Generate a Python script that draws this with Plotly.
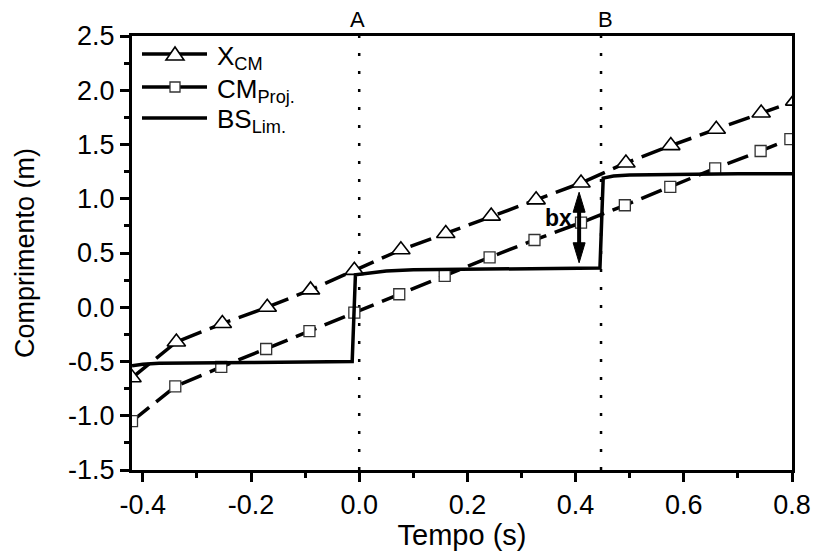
import plotly.graph_objects as go

# ---------------- data ----------------
t_xcm = [-0.42, -0.338, -0.253, -0.170, -0.090, -0.009, 0.077, 0.160, 0.244, 0.327,
         0.410, 0.493, 0.576, 0.660, 0.743, 0.805]
y_xcm = [-0.65, -0.32, -0.15, 0.0, 0.16, 0.34, 0.53, 0.68, 0.84, 0.99,
         1.145, 1.33, 1.49, 1.64, 1.79, 1.90]

t_cm = [-0.42, -0.340, -0.255, -0.172, -0.092, -0.009, 0.074, 0.158, 0.241, 0.324,
        0.410, 0.491, 0.575, 0.658, 0.742, 0.797]
y_cm = [-1.05, -0.73, -0.55, -0.385, -0.22, -0.05, 0.12, 0.29, 0.46, 0.62,
        0.78, 0.94, 1.11, 1.28, 1.44, 1.55]

t_bs = [-0.42, -0.40, -0.37, -0.30, -0.20, -0.10, -0.013, -0.007, 0.02, 0.05, 0.10,
        0.20, 0.30, 0.40, 0.445, 0.451, 0.47, 0.50, 0.60, 0.70, 0.80]
y_bs = [-0.54, -0.525, -0.515, -0.515, -0.51, -0.505, -0.50, 0.30, 0.32, 0.335, 0.345,
        0.35, 0.355, 0.36, 0.362, 1.19, 1.21, 1.22, 1.228, 1.23, 1.23]

series_names = ["X<sub>CM</sub>", "CM<sub>Proj.</sub>", "BS<sub>Lim.</sub>"]

event_t = [0.0, 0.447]
event_labels = ["A", "B"]

bx_t = 0.4065
bx_top = 1.06
bx_bottom = 0.41

x_range = [-0.42, 0.8]
y_range = [-1.5, 2.5]
x_tickvals = [-0.4, -0.2, 0.0, 0.2, 0.4, 0.6, 0.8]
x_ticktext = ["-0.4", "-0.2", "0.0", "0.2", "0.4", "0.6", "0.8"]
y_tickvals = [-1.5, -1.0, -0.5, 0.0, 0.5, 1.0, 1.5, 2.0, 2.5]
y_ticktext = ["-1.5", "-1.0", "-0.5", "0.0", "0.5", "1.0", "1.5", "2.0", "2.5"]

# ---------------- layout geometry ----------------
W, H = 816, 551
ML, MR, MT, MB = 132, 24, 36, 81
PW, PH = W - ML - MR, H - MT - MB
FONT = "Liberation Sans"


def px(xp):
    return (xp - ML) / PW


def py(yp):
    return (H - MB - yp) / PH


fig = go.Figure()

fig.add_trace(go.Scatter(
    x=t_xcm, y=y_xcm, mode="lines+markers", name=series_names[0], showlegend=False,
    line=dict(color="black", width=3.5, dash="22px,9px"),
    marker=dict(symbol="triangle-up", size=16, color="white",
                line=dict(color="black", width=1.6)),
    cliponaxis=True,
))
fig.add_trace(go.Scatter(
    x=t_cm, y=y_cm, mode="lines+markers", name=series_names[1], showlegend=False,
    line=dict(color="black", width=3.5, dash="22px,9px"),
    marker=dict(symbol="square", size=11, color="white",
                line=dict(color="#333333", width=1.3)),
    cliponaxis=True,
))
fig.add_trace(go.Scatter(
    x=t_bs, y=y_bs, mode="lines", name=series_names[2], showlegend=False,
    line=dict(color="black", width=3.5),
    cliponaxis=True,
))

shapes = []
annotations = []

# vertical dotted event lines + labels
for t, lab, xs in zip(event_t, event_labels, [-2, 4]):
    shapes.append(dict(type="line", xref="x", yref="paper", x0=t, x1=t, y0=0, y1=1,
                       line=dict(color="black", width=2.5, dash="3px,15px"), layer="below"))
    annotations.append(dict(x=t, y=1, xref="x", yref="paper", text=lab, showarrow=False,
                            yanchor="bottom", yshift=2, xshift=xs,
                            font=dict(family=FONT, size=22, color="black")))

# bx double arrow (shaft + two slender heads)
head_dx = 6.0 / PW * (x_range[1] - x_range[0])
head_dy = 20.0 / PH * (y_range[1] - y_range[0])
shapes.append(dict(type="line", xref="x", yref="y", x0=bx_t, x1=bx_t,
                   y0=bx_bottom + head_dy * 0.8, y1=bx_top - head_dy * 0.8,
                   line=dict(color="black", width=4)))
shapes.append(dict(type="path", xref="x", yref="y",
                   path=f"M{bx_t},{bx_top} L{bx_t - head_dx},{bx_top - head_dy} "
                        f"L{bx_t + head_dx},{bx_top - head_dy} Z",
                   fillcolor="black", line=dict(color="black", width=1)))
shapes.append(dict(type="path", xref="x", yref="y",
                   path=f"M{bx_t},{bx_bottom} L{bx_t - head_dx},{bx_bottom + head_dy} "
                        f"L{bx_t + head_dx},{bx_bottom + head_dy} Z",
                   fillcolor="black", line=dict(color="black", width=1)))
annotations.append(dict(x=bx_t, y=0.82, xref="x", yref="y", text="<b>bx</b>",
                        showarrow=False, xanchor="right", yanchor="middle", xshift=-5,
                        font=dict(family=FONT, size=23, color="black")))

# ---------------- legend (drawn in paper space) ----------------
leg_rows = [54, 87, 118]
leg_x0, leg_x1, leg_mid, leg_text = 142, 207, 175, 215
for i, yrow in enumerate(leg_rows):
    shapes.append(dict(type="line", xref="paper", yref="paper",
                       x0=px(leg_x0), x1=px(leg_x1), y0=py(yrow), y1=py(yrow),
                       line=dict(color="black", width=3.5)))
    annotations.append(dict(x=px(leg_text), y=py(yrow), xref="paper", yref="paper",
                            text=series_names[i], showarrow=False, xanchor="left",
                            yanchor="middle", yshift=-3,
                            font=dict(family=FONT, size=26, color="black")))
# triangle symbol
shapes.append(dict(type="path", xref="paper", yref="paper",
                   path=f"M{px(leg_mid)},{py(leg_rows[0] - 7)} L{px(leg_mid - 9)},{py(leg_rows[0] + 6)} "
                        f"L{px(leg_mid + 9)},{py(leg_rows[0] + 6)} Z",
                   fillcolor="white", line=dict(color="black", width=1.6)))
# square symbol
shapes.append(dict(type="rect", xref="paper", yref="paper",
                   x0=px(leg_mid - 5), x1=px(leg_mid + 5),
                   y0=py(leg_rows[1] - 5), y1=py(leg_rows[1] + 5),
                   fillcolor="white", line=dict(color="#333333", width=1.3)))

axis_common = dict(showgrid=False, zeroline=False, showline=True, linecolor="black",
                   linewidth=3, mirror=True, ticks="outside", tickcolor="black",
                   tickwidth=3, ticklen=9)

fig.update_xaxes(range=x_range, tickvals=x_tickvals, ticktext=x_ticktext,
                 tickfont=dict(family=FONT, size=27, color="black"),
                 minor=dict(ticks="outside", dtick=0.1, tick0=0, ticklen=5,
                            tickwidth=2.5, tickcolor="black"),
                 title=dict(text="Tempo (s)", font=dict(family=FONT, size=29, color="black"),
                            standoff=4),
                 **axis_common)
fig.update_yaxes(range=y_range, tickvals=y_tickvals, ticktext=y_ticktext,
                 tickfont=dict(family=FONT, size=27, color="black"),
                 minor=dict(ticks="outside", dtick=0.25, tick0=0, ticklen=5,
                            tickwidth=2.5, tickcolor="black"),
                 title=dict(text="Comprimento (m)", font=dict(family=FONT, size=27, color="black"),
                            standoff=26),
                 **axis_common)

fig.update_layout(
    width=W, height=H,
    margin=dict(l=ML, r=MR, t=MT, b=MB, autoexpand=False),
    plot_bgcolor="white", paper_bgcolor="white",
    font=dict(family=FONT, color="black"),
    showlegend=False,
    shapes=shapes,
    annotations=annotations,
)

fig.write_html("out.html")
